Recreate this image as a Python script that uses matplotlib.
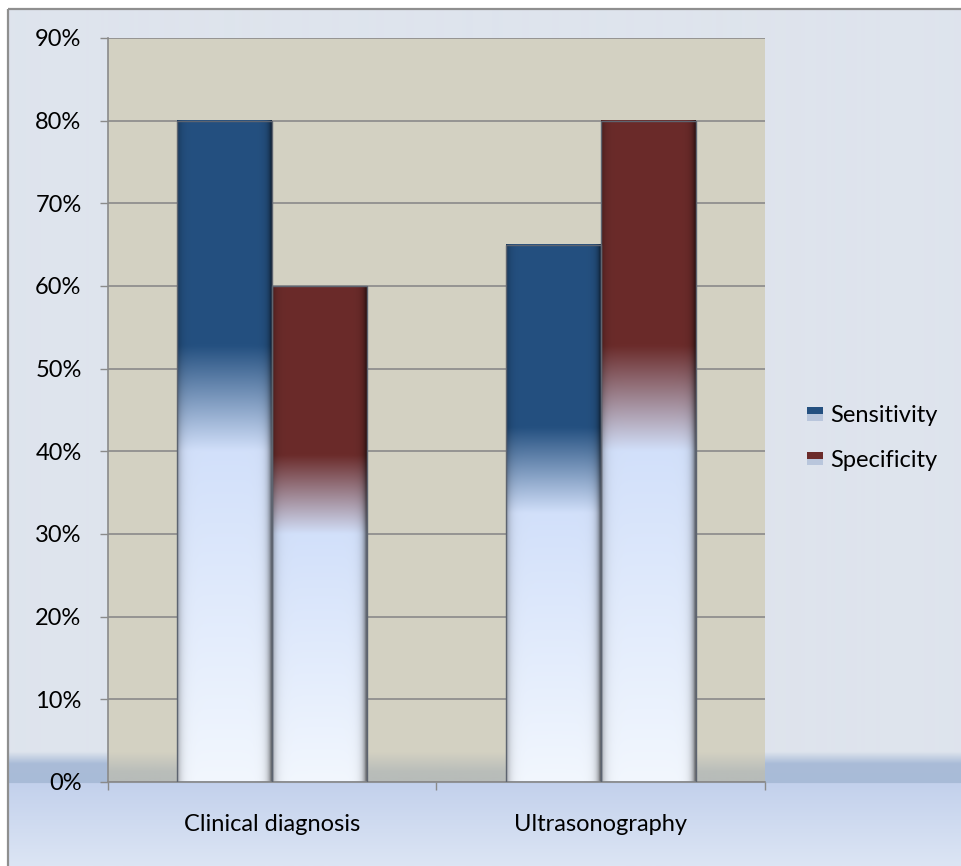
"""Sensitivity and specificity of clinical diagnosis vs. ultrasonography,
drawn as gradient-filled grouped bars on a tinted chart area."""

import numpy as np
import matplotlib

matplotlib.use("Agg")
import matplotlib.pyplot as plt
from matplotlib.colors import to_rgb
from matplotlib.legend_handler import HandlerBase
from matplotlib.patches import Rectangle
from matplotlib.ticker import FixedLocator, PercentFormatter

CATEGORIES = ["Clinical diagnosis", "Ultrasonography"]
SERIES = ["Sensitivity", "Specificity"]
SENSITIVITY = [80, 65]
SPECIFICITY = [60, 80]
Y_TICKS = [0, 10, 20, 30, 40, 50, 60, 70, 80, 90]

COLORS = {"Sensitivity": "#245080", "Specificity": "#6b2b2a"}
PLOT_BG = "#d3d1c2"
GRID = "#8a8a8a"
FS = 17

W, H, DPI = 962, 866, 100
plt.rcParams["font.family"] = ["Lato", "DejaVu Sans"]


def ramp(stops, n):
    """Interpolate a list of (position, colour) stops into n RGB rows."""
    pos = np.array([p for p, _ in stops])
    cols = np.array([to_rgb(c) for _, c in stops])
    t = np.linspace(0, 1, n)
    return np.stack([np.interp(t, pos, cols[:, k]) for k in range(3)], axis=1)


def bar_image(color, n=300, m=60):
    # vertical: pale blue-white at the base, solid series colour at the top
    col = ramp([(0.0, "#f2f7fe"), (0.5, "#d2e0fa"), (0.66, color), (1.0, color)], n)
    # horizontal: darken the sides a little so the bar reads as raised
    x = np.linspace(0, 1, m)
    shade = 1 - 0.30 * np.exp(-x / 0.04) - 0.55 * np.exp(-(1 - x) / 0.035)
    return np.clip(col[:, None, :] * shade[None, :, None], 0, 1)


class GradientSquare(HandlerBase):
    def __init__(self, color):
        super().__init__()
        self.color = color

    def create_artists(self, legend, orig_handle, xdescent, ydescent,
                       width, height, fontsize, trans):
        y0 = -ydescent
        low = Rectangle((-xdescent, y0), width, height * 0.45, facecolor="#b9c6dc",
                        edgecolor="none", transform=trans)
        high = Rectangle((-xdescent, y0 + height * 0.45), width, height * 0.55,
                         facecolor=self.color, edgecolor="none", transform=trans)
        return [low, high]


fig = plt.figure(figsize=(W / DPI, H / DPI), dpi=DPI)
fig.patch.set_facecolor("white")

# figure background with the glossy band along the bottom
bg = fig.add_axes([0, 0, 1, 1], zorder=-5)
bg.set_xlim(0, W)
bg.set_ylim(H, 0)
bg.axis("off")
rows = H - 9
grad = ramp([(0.0, "#dee4ed"), ((752 - 9) / rows, "#dee4ed"),
             ((764 - 9) / rows, "#aabcd8"), ((783 - 9) / rows, "#a8bbd7"),
             ((784 - 9) / rows, "#c3d1ec"), (1.0, "#dce5f4")], rows)
bg.imshow(grad[:, None, :], extent=(8, W, H, 9), aspect="auto",
          interpolation="bilinear")
bg.plot([8, W], [9, 9], color="#8f8f8f", lw=1.6, solid_capstyle="butt")
bg.plot([8, 8], [9, H], color="#8f8f8f", lw=1.6, solid_capstyle="butt")

ax = fig.add_axes([108 / W, 84 / H, 657 / W, 744 / H])
ax.set_facecolor(PLOT_BG)

# darker strip at the foot of the plot area
shade = np.zeros((100, 1, 4))
shade[:, 0, :3] = to_rgb("#9aa6b0")
shade[:, 0, 3] = np.interp(np.linspace(0, 1, 100), [0, 0.35, 1], [0.5, 0.45, 0])
ax.imshow(shade, extent=(0, 2, 0, 3.6), origin="lower", aspect="auto", zorder=0.2)

bar_w = 0.289
for i, cat in enumerate(CATEGORIES):
    center = i + 0.5
    for j, (name, vals) in enumerate(zip(SERIES, [SENSITIVITY, SPECIFICITY])):
        x0 = center - bar_w + j * bar_w
        v = vals[i]
        ax.imshow(bar_image(COLORS[name]), extent=(x0, x0 + bar_w, 0, v),
                  origin="lower", aspect="auto", interpolation="bilinear", zorder=2)
        ax.add_patch(Rectangle((x0, 0), bar_w, v, facecolor="none",
                               edgecolor="#5d6470", lw=1.0, zorder=3))

ax.set_xlim(0, 2)
ax.set_ylim(0, 90)

ax.yaxis.set_major_locator(FixedLocator(Y_TICKS))
ax.yaxis.set_major_formatter(PercentFormatter(xmax=100, decimals=0))
ax.set_axisbelow(True)
ax.grid(axis="y", color=GRID, lw=1.2)
ax.grid(axis="x", visible=False)

ax.set_xticks([0, 1, 2])
ax.set_xticklabels([])
ax.set_xticks([0.5, 1.5], minor=True)
ax.set_xticklabels(CATEGORIES, minor=True)
ax.tick_params(axis="x", which="minor", length=0, pad=23, labelsize=FS)
ax.tick_params(axis="x", which="major", length=5.5, width=1.0, color=GRID)
ax.tick_params(axis="y", length=6, width=1.0, color=GRID, pad=13, labelsize=FS)

for side in ("top", "right"):
    ax.spines[side].set_visible(False)
for side in ("left", "bottom"):
    ax.spines[side].set_color(GRID)
    ax.spines[side].set_linewidth(1.2)

handles = [Rectangle((0, 0), 1, 1, label=s) for s in SERIES]
fig.legend(handles=handles, labels=SERIES, loc="center left",
           bbox_to_anchor=(800 / W, 1 - 438 / H), frameon=False,
           fontsize=FS, handlelength=0.68, handleheight=0.5,
           handletextpad=0.3, labelspacing=1.0, borderaxespad=0, borderpad=0.3,
           handler_map={h: GradientSquare(COLORS[s]) for h, s in zip(handles, SERIES)})

fig.savefig("out.png", dpi=DPI)
